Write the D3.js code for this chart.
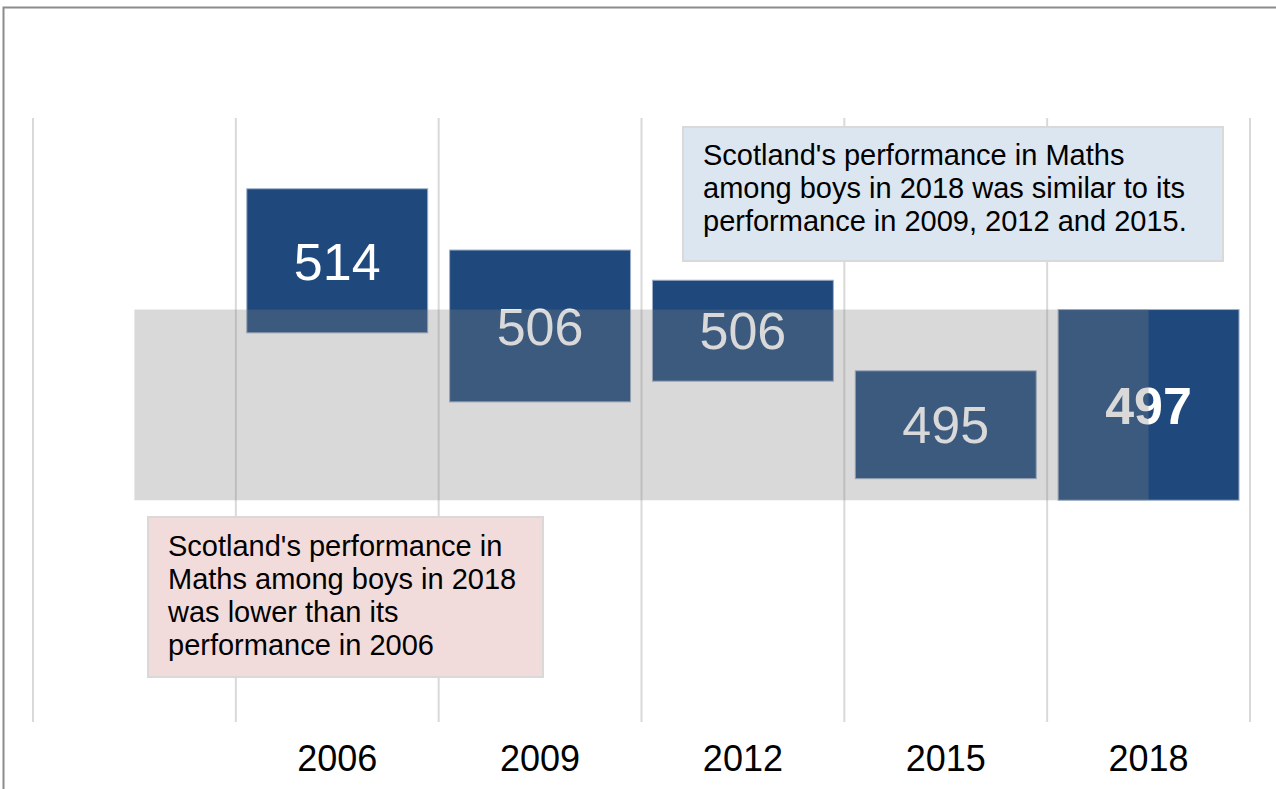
<!DOCTYPE html>
<html>
<head>
<meta charset="utf-8">
<script src="https://cdn.jsdelivr.net/npm/d3@7"></script>
<style>
  html, body { margin: 0; padding: 0; background: #fff; }
  svg { display: block; font-family: "Liberation Sans", Arial, sans-serif; }
</style>
</head>
<body>
<svg id="chart" width="1276" height="789"></svg>
<script>
// PISA Maths scores, boys, Scotland: mean score with its confidence range
const categories = ["", "2006", "2009", "2012", "2015", "2018"];
const years = ["2006", "2009", "2012", "2015", "2018"];
const scores = [514, 506, 506, 495, 497];
const lower = [505.1, 497.1, 499.5, 488.2, 485.7];
const upper = [521.8, 514.7, 511.2, 500.7, 507.8];
const highlightYear = "2018";
const noteSimilar = ["Scotland's performance in Maths",
                     "among boys in 2018 was similar to its",
                     "performance in 2009, 2012 and 2015."];
const noteLower = ["Scotland's performance in",
                   "Maths among boys in 2018",
                   "was lower than its",
                   "performance in 2006"];

const svg = d3.select("#chart");
const W = 1276, H = 789;

// frame
svg.append("rect")
  .attr("x", 3.5).attr("y", 7.5).attr("width", W + 10).attr("height", H + 10)
  .attr("fill", "none").attr("stroke", "#8c8c8c").attr("stroke-width", 2);

const x = d3.scaleBand().domain(categories).range([33, 1250]);
const y = d3.scaleLinear().domain([460, 530]).range([722, 118]);

// vertical separators between categories
const gridX = categories.map(c => x(c)).concat([x.range()[1]]);
svg.append("g").selectAll("line").data(gridX).join("line")
  .attr("x1", d => d).attr("x2", d => d)
  .attr("y1", y(530)).attr("y2", y(460))
  .attr("stroke", "#d9d9d9").attr("stroke-width", 2);

// year axis labels
const xAxis = d3.axisBottom(x).tickSize(0).tickPadding(0);
const axisG = svg.append("g").attr("transform", `translate(0,${y(460)})`).call(xAxis);
axisG.select(".domain").remove();
axisG.selectAll("text")
  .attr("y", 49).attr("dy", null)
  .attr("font-size", 36).attr("fill", "#000")
  .attr("font-family", "'Liberation Sans', Arial, sans-serif");

// range boxes
const inset = x.bandwidth() * 0.054;
const rows = years.map((yr, i) => ({ yr, v: scores[i], lo: lower[i], hi: upper[i] }));
svg.append("g").selectAll("rect").data(rows).join("rect")
  .attr("x", d => x(d.yr) + inset)
  .attr("width", x.bandwidth() - 2 * inset)
  .attr("y", d => y(d.hi))
  .attr("height", d => y(d.lo) - y(d.hi))
  .attr("fill", "#1f497d")
  .attr("stroke", "#9fb0c8").attr("stroke-width", 1);

// score labels
svg.append("g").selectAll("text").data(rows).join("text")
  .attr("x", d => x(d.yr) + x.bandwidth() / 2)
  .attr("y", d => y((d.lo + d.hi) / 2))
  .attr("dy", "0.36em")
  .attr("text-anchor", "middle")
  .attr("font-size", 52)
  .attr("font-weight", d => d.yr === highlightYear ? "bold" : "normal")
  .attr("fill", "#fff")
  .text(d => d.v);

// 2018 confidence band laid across all years
const hIdx = years.indexOf(highlightYear);
svg.append("rect")
  .attr("x", x(categories[0]) + x.bandwidth() / 2)
  .attr("width", x(highlightYear) - x(categories[0]))
  .attr("y", y(upper[hIdx]))
  .attr("height", y(lower[hIdx]) - y(upper[hIdx]))
  .attr("fill", "#808080").attr("fill-opacity", 0.3);

// annotation boxes
function note(x0, y0, w, h, fill, lines, tx, ty) {
  const g = svg.append("g");
  g.append("rect").attr("x", x0).attr("y", y0).attr("width", w).attr("height", h)
    .attr("fill", fill).attr("stroke", "#d9d9d9").attr("stroke-width", 2);
  g.append("text").attr("font-size", 29).attr("fill", "#000")
    .selectAll("tspan").data(lines).join("tspan")
    .attr("x", tx).attr("y", (d, i) => ty + i * 33)
    .text(d => d);
}
note(683, 127, 540, 134, "#dce6f1", noteSimilar, 703, 165);
note(148, 517, 395, 160, "#f2dcdb", noteLower, 168, 556);
</script>
</body>
</html>
